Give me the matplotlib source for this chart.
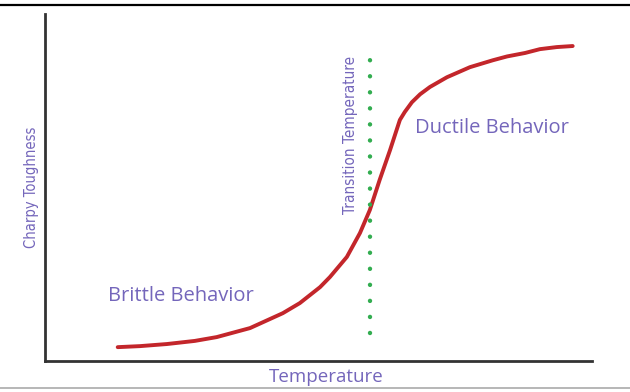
import matplotlib.pyplot as plt
from matplotlib.lines import Line2D

# curva de tenacidade Charpy (escala arbitraria 0-100)
temperature = [13.3, 17.4, 22.3, 27.4, 31.4, 37.5, 43.5, 46.6, 50.3, 52.1,
               55.2, 57.6, 59.4, 61.2, 63.1, 64.9, 65.8, 67.1, 68.6, 70.4,
               73.5, 77.7, 81.9, 84.5, 87.8, 90.5, 93.6, 96.5]
toughness = [4.0, 4.3, 4.9, 5.8, 6.9, 9.5, 13.8, 16.7, 21.3, 24.2,
             30.0, 36.9, 43.5, 52.2, 60.8, 69.5, 71.8, 74.6, 76.9, 79.0,
             81.8, 84.7, 86.7, 87.8, 88.8, 89.9, 90.5, 90.8]

transition_x = 59.4
transition_y = [8.1, 88.2]

label_color = '#7466bb'

fig = plt.figure(figsize=(6.3, 3.92), dpi=100)
ax = fig.add_axes([0.0714, 0.079, 0.868, 0.885])

ax.plot(temperature, toughness, color='#c3262b', linewidth=2.8,
        solid_capstyle='round', solid_joinstyle='round')
ax.plot([transition_x, transition_x], transition_y, color='#33ad50',
        linestyle=(0, (0.01, 3.6)), linewidth=3.2, dash_capstyle='round')

ax.text(11.5, 18.7, 'Brittle Behavior', color=label_color, fontsize=14.5,
        family='Open Sans', va='center', ha='left')
ax.text(67.6, 67.1, 'Ductile Behavior', color=label_color, fontsize=14.5,
        family='Open Sans', va='center', ha='left')
ax.text(55.8, 65.1, 'Transition Temperature', color=label_color, fontsize=11,
        family='DejaVu Sans', stretch='condensed', rotation=90,
        va='center', ha='center')

ax.set_xlabel('Temperature', color=label_color, fontsize=13.5,
              family='Open Sans', va='center')
ax.xaxis.set_label_coords(0.514, -0.045)
ax.set_ylabel('Charpy Toughness', color=label_color, fontsize=10.5,
              family='DejaVu Sans', stretch='condensed', labelpad=4)

ax.set_xlim(0, 100)
ax.set_ylim(0, 100)
ax.set_xticks([])
ax.set_yticks([])
for side in ['top', 'right']:
    ax.spines[side].set_visible(False)
for side in ['left', 'bottom']:
    ax.spines[side].set_linewidth(2)
    ax.spines[side].set_color('#333333')

# linhas de moldura da imagem original
fig.add_artist(Line2D([0, 1], [0.987, 0.987], color='black', linewidth=1.6,
                      transform=fig.transFigure))
fig.add_artist(Line2D([0, 1], [0.01, 0.01], color='#aaaaaa', linewidth=1.2,
                      transform=fig.transFigure))

plt.savefig('out.png', dpi=100)
